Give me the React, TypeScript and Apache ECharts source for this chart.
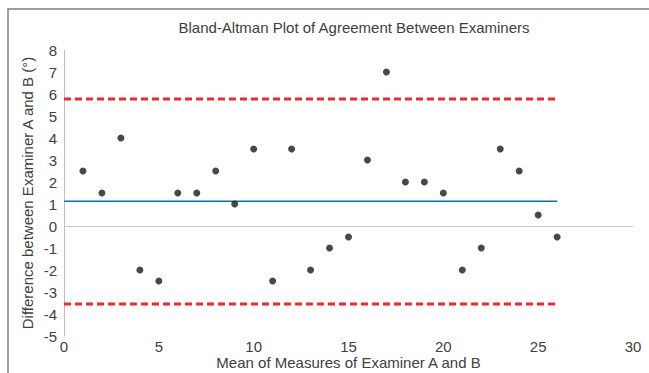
import React, { useEffect, useRef } from "react";
import * as echarts from "echarts";

const meanValues = [1, 2, 3, 4, 5, 6, 7, 8, 9, 10, 11, 12, 13, 14, 15, 16, 17, 18, 19, 20, 21, 22, 23, 24, 25, 26];
const differences = [2.5, 1.5, 4, -2, -2.5, 1.5, 1.5, 2.5, 1, 3.5, -2.5, 3.5, -2, -1, -0.5, 3, 7, 2, 2, 1.5, -2, -1, 3.5, 2.5, 0.5, -0.5];
const meanDiff = 1.13;
const upperLimit = 5.77;
const lowerLimit = -3.55;
const lineRange = [0, 26];

const FONT = "'Liberation Sans', Arial, sans-serif";
const TEXT = "#404040";
const FS = 15;

export default function App() {
  const ref = useRef<HTMLDivElement>(null);
  useEffect(() => {
    if (!ref.current) return;
    const chart = echarts.init(ref.current, undefined, { renderer: "svg" });
    const points = meanValues.map((x, i) => [x, differences[i]]);
    const hLine = (y: number) => lineRange.map((x) => [x, y]);
    chart.setOption({
      animation: false,
      textStyle: { fontFamily: FONT },
      title: {
        text: "Bland-Altman Plot of Agreement Between Examiners",
        left: 349,
        top: 15,
        textAlign: "center",
        textStyle: { fontFamily: FONT, fontSize: FS, fontWeight: "normal", color: TEXT },
      },
      graphic: [
        {
          type: "rect",
          shape: { x: 8, y: 9, width: 700, height: 400 },
          style: { fill: "none", stroke: "#7f7f7f", lineWidth: 1.5 },
          silent: true,
        },
      ],
      grid: { left: 64, right: 16, top: 50, bottom: 37, containLabel: false, outerBoundsMode: "none" },
      xAxis: {
        type: "value",
        min: 0,
        max: 30,
        interval: 5,
        name: "Mean of Measures of Examiner A and B",
        nameLocation: "middle",
        nameGap: 19,
        nameMoveOverlap: false,
        nameTextStyle: { fontFamily: FONT, fontSize: FS, color: TEXT },
        axisLine: { show: false },
        axisTick: { show: false },
        splitLine: { show: false },
        axisLabel: { fontFamily: FONT, fontSize: FS, color: TEXT, margin: 3 },
      },
      yAxis: {
        type: "value",
        min: -5,
        max: 8,
        interval: 1,
        name: "Difference between Examiner A and B (°)",
        nameLocation: "middle",
        nameGap: 29,
        nameMoveOverlap: false,
        nameTextStyle: { fontFamily: FONT, fontSize: FS, color: TEXT },
        axisLine: { show: true, onZero: false, lineStyle: { color: "#bfbfbf", width: 1 } },
        axisTick: { show: false },
        splitLine: { show: false },
        axisLabel: { fontFamily: FONT, fontSize: FS, color: TEXT, margin: 7 },
      },
      series: [
        {
          type: "line",
          data: hLine(upperLimit),
          symbol: "none",
          lineStyle: { color: "#f5262b", width: 3, type: [7, 4] },
          z: 2,
        },
        {
          type: "line",
          data: hLine(lowerLimit),
          symbol: "none",
          lineStyle: { color: "#f5262b", width: 3, type: [7, 4] },
          z: 2,
        },
        {
          type: "line",
          data: hLine(meanDiff),
          symbol: "none",
          lineStyle: { color: "#0070c0", width: 1.5 },
          z: 2,
        },
        {
          type: "scatter",
          data: points,
          symbol: "circle",
          symbolSize: 7,
          itemStyle: { color: "#1a1a1a" },
          z: 3,
          markLine: {
            silent: true,
            symbol: "none",
            label: { show: false },
            lineStyle: { color: "#c8c8c8", width: 1, type: "solid" },
            data: [{ yAxis: 0 }],
          },
        },
      ],
    });
    return () => chart.dispose();
  }, []);
  return <div ref={ref} style={{ position: "absolute", left: 0, top: 0, width: 649, height: 373 }} />;
}
